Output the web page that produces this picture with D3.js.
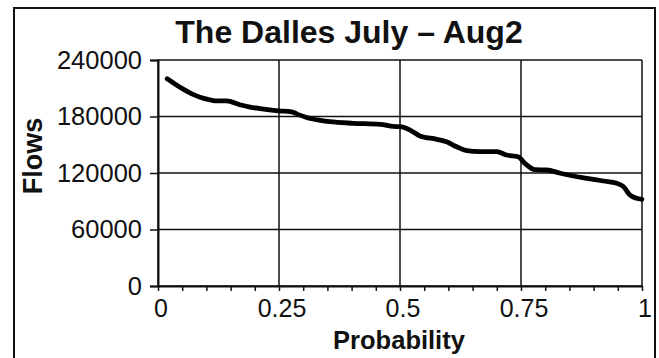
<!DOCTYPE html>
<html>
<head>
<meta charset="utf-8">
<script src="https://cdn.jsdelivr.net/npm/d3@7"></script>
<style>
  html, body { margin: 0; padding: 0; background: #fff; }
  svg { display: block; }
  text { font-family: "Liberation Sans", Arial, Helvetica, sans-serif; fill: #111; }
</style>
</head>
<body>
<svg id="chart" width="659" height="358"></svg>
<script>
// Exceedance curve: flow vs. probability
const probability = [0.019, 0.035, 0.052, 0.070, 0.087, 0.105, 0.118, 0.142, 0.169, 0.190,
  0.211, 0.249, 0.276, 0.290, 0.307, 0.335, 0.355, 0.404, 0.459, 0.486,
  0.503, 0.521, 0.541, 0.576, 0.596, 0.617, 0.638, 0.665, 0.700, 0.720,
  0.744, 0.758, 0.779, 0.803, 0.831, 0.858, 0.886, 0.920, 0.948, 0.962,
  0.975, 0.989, 1.000];
const flows = [220000, 214500, 209000, 204000, 200500, 198000, 196600, 196600, 192500, 190000,
  188300, 186000, 185000, 182000, 179000, 176000, 174500, 172800, 171700, 169500,
  169000, 165600, 159300, 155800, 153200, 147900, 143700, 142600, 142600, 139100,
  137300, 130300, 123500, 123200, 119700, 116800, 114400, 111500, 109100, 105400,
  96600, 93100, 92100];

const yTicks = [0, 60000, 120000, 180000, 240000];
const xTicks = [0, 0.25, 0.5, 0.75, 1];
const xTickLabels = ["0", "0.25", "0.5", "0.75", "1"];
const xMinorTicks = d3.range(0, 1.0001, 0.05);

const title = "The Dalles July \u2013 Aug2";
const xTitle = "Probability";
const yTitle = "Flows";

const svg = d3.select("#chart");
const plot = { left: 158, right: 642, top: 60, bottom: 286 };

const x = d3.scaleLinear().domain([0, 1]).range([plot.left, plot.right]);
const y = d3.scaleLinear().domain([0, 240000]).range([plot.bottom, plot.top]);

// outer frame
svg.append("rect")
  .attr("x", 14).attr("y", 8)
  .attr("width", 641).attr("height", 370)
  .attr("fill", "none").attr("stroke", "#111").attr("stroke-width", 2);

// gridlines
const grid = svg.append("g").attr("stroke", "#111").attr("stroke-width", 1.5);
grid.selectAll("line.h").data(yTicks).join("line")
  .attr("class", "h")
  .attr("x1", plot.left).attr("x2", plot.right)
  .attr("y1", d => y(d)).attr("y2", d => y(d));
grid.selectAll("line.v").data(xTicks).join("line")
  .attr("class", "v")
  .attr("x1", d => x(d)).attr("x2", d => x(d))
  .attr("y1", plot.top).attr("y2", plot.bottom);

// y axis
const yAxis = svg.append("g")
  .attr("transform", `translate(${plot.left},0)`)
  .call(d3.axisLeft(y).tickValues(yTicks).tickFormat(d3.format("d")).tickSize(8).tickPadding(8));
yAxis.select(".domain").attr("stroke", "#111").attr("stroke-width", 2);
yAxis.selectAll(".tick line").attr("stroke", "#111").attr("stroke-width", 1.5);
yAxis.selectAll(".tick text")
  .style("font-size", "25.5px").attr("fill", "#111");

// x axis: minor ticks every 0.05, labels at quarters
const xAxis = svg.append("g")
  .attr("transform", `translate(0,${plot.bottom})`)
  .call(d3.axisBottom(x).tickValues(xMinorTicks).tickFormat("").tickSize(5).tickSizeOuter(0));
xAxis.select(".domain").attr("stroke", "#111").attr("stroke-width", 2);
xAxis.selectAll(".tick line").attr("stroke", "#111").attr("stroke-width", 1.5);

svg.append("g").selectAll("text").data(xTicks).join("text")
  .attr("x", d => x(d) + 3).attr("y", 317)
  .attr("text-anchor", "middle")
  .style("font-size", "25px")
  .text((d, i) => xTickLabels[i]);

// curve
const line = d3.line()
  .x(d => x(d[0]))
  .y(d => y(d[1]))
  .curve(d3.curveMonotoneX);
svg.append("path")
  .datum(probability.map((p, i) => [p, flows[i]]))
  .attr("d", line)
  .attr("fill", "none")
  .attr("stroke", "#000")
  .attr("stroke-width", 4.8)
  .attr("stroke-linecap", "round")
  .attr("stroke-linejoin", "round");

// titles
svg.append("text")
  .attr("x", 349).attr("y", 43)
  .attr("text-anchor", "middle")
  .style("font-size", "32px").style("font-weight", "bold")
  .text(title);

svg.append("text")
  .attr("x", 399).attr("y", 349)
  .attr("text-anchor", "middle")
  .style("font-size", "25.5px").style("font-weight", "bold")
  .text(xTitle);

svg.append("text")
  .attr("transform", "translate(42,156) rotate(-90)")
  .attr("text-anchor", "middle")
  .style("font-size", "27px").style("font-weight", "bold")
  .text(yTitle);
</script>
</body>
</html>
